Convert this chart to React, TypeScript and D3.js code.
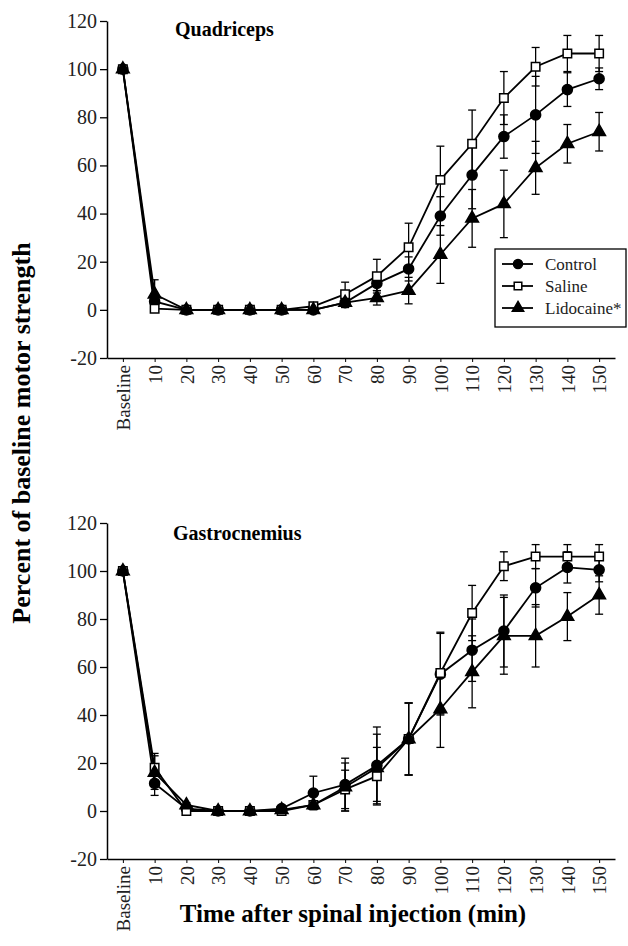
import React, { useEffect, useRef } from "react";
import * as d3 from "d3";

// time points (x axis categories)
const times = ["Baseline", "10", "20", "30", "40", "50", "60", "70", "80", "90", "100", "110", "120", "130", "140", "150"];
const yTicks = [-20, 0, 20, 40, 60, 80, 100, 120];
const seriesNames = ["Control", "Saline", "Lidocaine*"];

// Quadriceps panel
const quadControl = [100, 3.5, 0, 0, 0, 0, 0, 3, 11, 17, 39, 56, 72, 81, 91.5, 96];
const quadControlErr = [0, 3, 0, 0, 0, 0, 1, 2, 3, 5, 8, 14, 9, 16, 7, 4.5];
const quadSaline = [100, 0.5, 0, 0, 0, 0, 1.5, 6.5, 14, 26, 54, 69, 88, 101, 106.5, 106.5];
const quadSalineErr = [0, 1, 0, 0, 0, 0, 1, 5, 7, 10, 14, 14, 11, 8, 7.5, 7.5];
const quadLido = [100, 6.5, 0, 0, 0, 0, 0, 3, 5, 8, 23, 38, 44, 59, 69, 74];
const quadLidoErr = [0, 6, 0, 0, 0, 0, 0, 2, 3, 5.5, 12, 12, 14, 11, 8, 8];

// Gastrocnemius panel
const gastControl = [100, 11.5, 1, 0, 0, 1, 7.5, 11, 19, 30, 57, 67, 75, 93, 101.5, 100.5];
const gastControlErr = [0, 5, 1, 0, 0, 1, 7, 11, 16, 15, 17, 13, 15, 8, 6.5, 5];
const gastSaline = [100, 18, 0, 0, 0, 0, 2.5, 9, 14.5, 30, 57.5, 82.5, 102, 106, 106, 106];
const gastSalineErr = [0, 6, 0, 0, 0, 0, 1, 8, 12, 15, 17, 11.5, 6, 5, 5, 5];
const gastLido = [100, 16, 2.5, 0, 0, 0.5, 2.5, 10, 18, 30, 42.5, 58, 73, 73, 81, 90];
const gastLidoErr = [0, 7, 1, 0, 0, 0, 1, 10, 14, 15, 16, 15, 16, 13, 10, 8];

const FONT = "'Liberation Serif', 'Times New Roman', serif";

const App = () => {
  const ref = useRef<SVGSVGElement>(null);

  useEffect(() => {
    const svg = d3.select(ref.current);
    svg.selectAll("*").remove();

    const x = d3.scalePoint<string>().domain(times).range([107, 615]).padding(0.5);

    const symbols = [
      { type: d3.symbolCircle, size: 80, fill: "#000" },
      { type: d3.symbolSquare, size: 72, fill: "#fff" },
      { type: d3.symbolTriangle, size: 70, fill: "#000" },
    ];

    const panels = [
      {
        title: "Quadriceps",
        titleX: 175,
        titleY: 36,
        top: 21,
        bottom: 358,
        series: [
          { values: quadControl, err: quadControlErr },
          { values: quadSaline, err: quadSalineErr },
          { values: quadLido, err: quadLidoErr },
        ],
      },
      {
        title: "Gastrocnemius",
        titleX: 173,
        titleY: 540,
        top: 523,
        bottom: 859,
        series: [
          { values: gastControl, err: gastControlErr },
          { values: gastSaline, err: gastSalineErr },
          { values: gastLido, err: gastLidoErr },
        ],
      },
    ];

    panels.forEach((p) => {
      const y = d3.scaleLinear().domain([-20, 120]).range([p.bottom, p.top]);
      const g = svg.append("g");

      // y axis (plain hyphen for negatives, like the original)
      const yAxis = g
        .append("g")
        .attr("transform", "translate(107,0)")
        .call(
          d3
            .axisLeft(y)
            .tickValues(yTicks)
            .tickFormat((d) => String(d))
            .tickSize(7)
            .tickSizeOuter(0)
            .tickPadding(3)
        );
      yAxis.select(".domain").attr("stroke-width", 1.5);
      yAxis.selectAll(".tick line").attr("stroke-width", 1.3);
      yAxis
        .selectAll("text")
        .style("font-family", FONT)
        .style("font-size", "20px")
        .attr("fill", "#222");

      // x axis
      const xAxis = g
        .append("g")
        .attr("transform", `translate(0,${p.bottom})`)
        .call(d3.axisBottom(x).tickSize(4).tickSizeOuter(0));
      xAxis.select(".domain").attr("stroke-width", 1.5);
      xAxis
        .selectAll("text")
        .attr("transform", "rotate(-90)")
        .attr("x", -7)
        .attr("y", 0)
        .attr("dy", "0.35em")
        .style("text-anchor", "end")
        .style("font-family", FONT)
        .style("font-size", "19px")
        .attr("fill", "#222");

      // title
      g.append("text")
        .attr("x", p.titleX)
        .attr("y", p.titleY)
        .style("font-family", FONT)
        .style("font-size", "20px")
        .style("font-weight", "bold")
        .text(p.title);

      const line = d3
        .line<number>()
        .x((_, i) => x(times[i]) as number)
        .y((d) => y(d));

      p.series.forEach((s) => {
        // error bars
        const eb = g.append("g").attr("stroke", "#000").attr("stroke-width", 1.3);
        s.values.forEach((v, i) => {
          const e = s.err[i];
          if (e <= 0.5) return;
          const cx = x(times[i]) as number;
          eb.append("line").attr("x1", cx).attr("x2", cx).attr("y1", y(v - e)).attr("y2", y(v + e));
          eb.append("line").attr("x1", cx - 4).attr("x2", cx + 4).attr("y1", y(v - e)).attr("y2", y(v - e));
          eb.append("line").attr("x1", cx - 4).attr("x2", cx + 4).attr("y1", y(v + e)).attr("y2", y(v + e));
        });
      });

      p.series.forEach((s) => {
        g.append("path")
          .datum(s.values)
          .attr("d", line)
          .attr("fill", "none")
          .attr("stroke", "#000")
          .attr("stroke-width", 1.8);
      });

      p.series.forEach((s, si) => {
        const sym = symbols[si];
        g.selectAll(null)
          .data(s.values)
          .enter()
          .append("path")
          .attr("transform", (d, i) => `translate(${x(times[i])},${y(d)})`)
          .attr("d", d3.symbol().type(sym.type).size(sym.size)() as string)
          .attr("fill", sym.fill)
          .attr("stroke", "#000")
          .attr("stroke-width", 1.5);
      });
    });

    // legend
    const lg = svg.append("g");
    lg.append("rect")
      .attr("x", 495)
      .attr("y", 249)
      .attr("width", 131)
      .attr("height", 78)
      .attr("fill", "#fff")
      .attr("stroke", "#000")
      .attr("stroke-width", 1.3);
    const rowY = [264, 286, 308];
    seriesNames.forEach((name, i) => {
      const sym = symbols[i];
      lg.append("line")
        .attr("x1", 502)
        .attr("x2", 533)
        .attr("y1", rowY[i])
        .attr("y2", rowY[i])
        .attr("stroke", "#000")
        .attr("stroke-width", 1.8);
      lg.append("path")
        .attr("transform", `translate(518,${rowY[i]})`)
        .attr("d", d3.symbol().type(sym.type).size(sym.size * 0.8)() as string)
        .attr("fill", sym.fill)
        .attr("stroke", "#000")
        .attr("stroke-width", 1.5);
      lg.append("text")
        .attr("x", 545)
        .attr("y", rowY[i])
        .attr("dy", "0.35em")
        .style("font-family", FONT)
        .style("font-size", "17px")
        .attr("fill", "#222")
        .text(name);
    });

    // shared axis titles
    svg.append("text")
      .attr("transform", "translate(30,433) rotate(-90)")
      .attr("text-anchor", "middle")
      .style("font-family", FONT)
      .style("font-size", "26px")
      .style("font-weight", "bold")
      .text("Percent of baseline motor strength");

    svg.append("text")
      .attr("x", 353)
      .attr("y", 922)
      .attr("text-anchor", "middle")
      .style("font-family", FONT)
      .style("font-size", "25px")
      .style("font-weight", "bold")
      .text("Time after spinal injection (min)");
  }, []);

  return (
    <svg
      ref={ref}
      width={628}
      height={946}
      style={{ position: "absolute", left: 0, top: 0, background: "#fff" }}
    ></svg>
  );
};

export default App;
